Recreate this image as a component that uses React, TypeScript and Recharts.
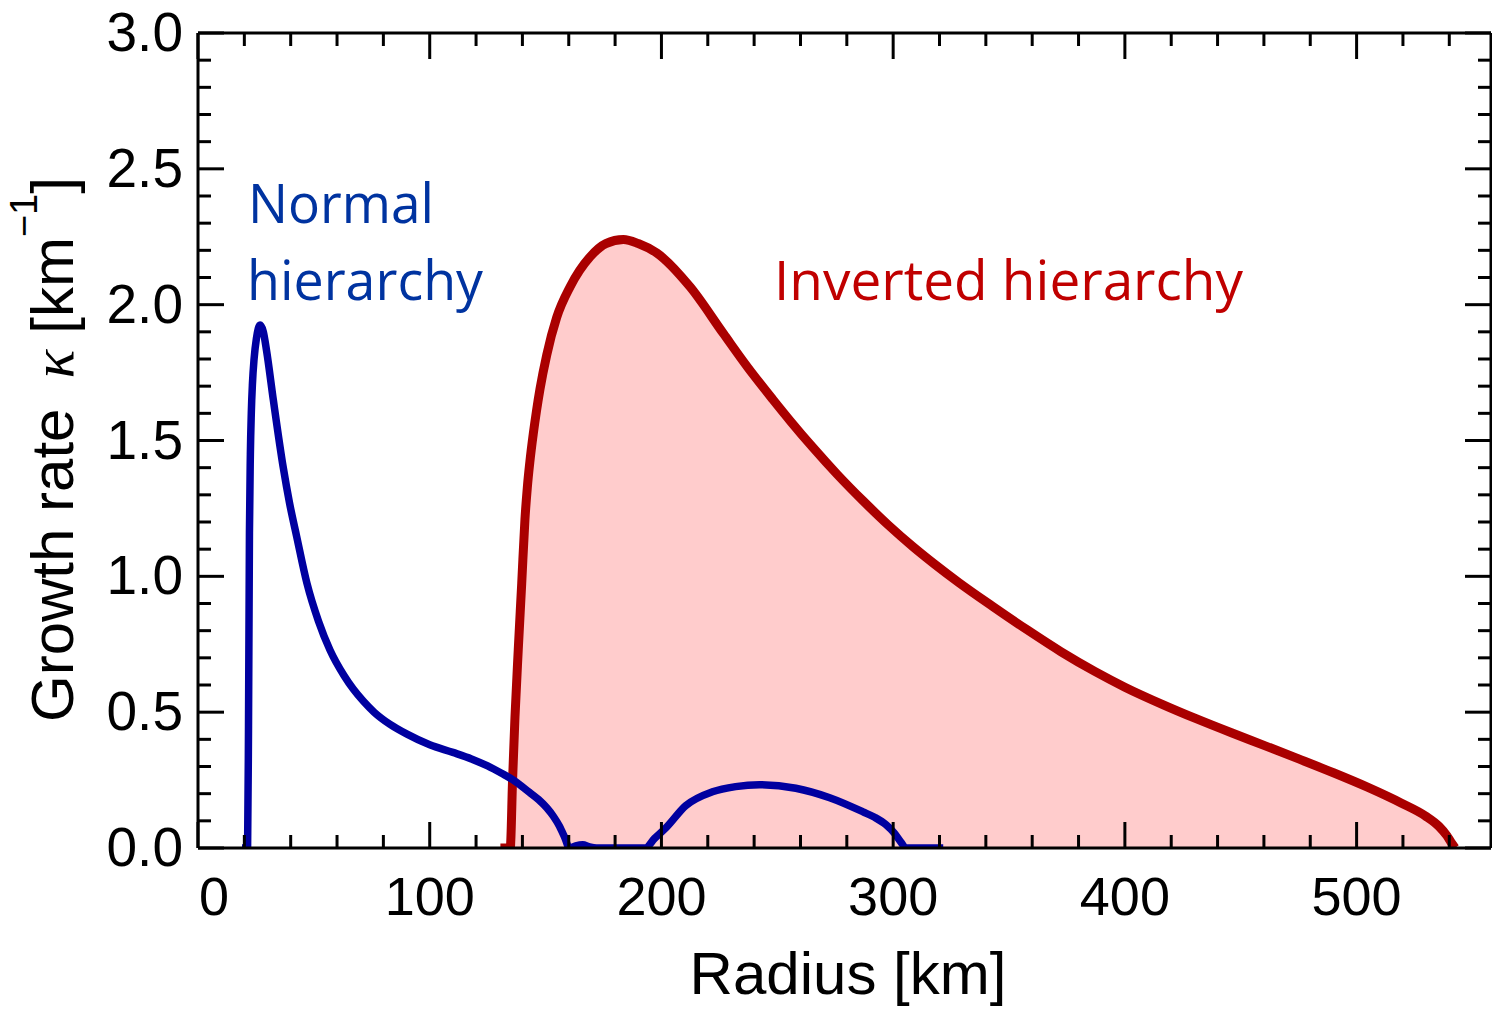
import { Area, ComposedChart, Customized, Line, XAxis, YAxis } from 'recharts'

// Normal hierarchy (blue curve): radius in km, growth rate in 1/km
const normalRadius = [
  19, 21.4, 21.8, 22.2, 22.6, 23, 23.5, 24.2, 25.2, 26.8, 28.2, 29.6, 32.5, 36.8, 39.5, 42.6, 47, 52,
  57, 63, 67, 71.4, 76, 82.9, 90, 100, 110, 118, 125, 131, 136.1, 143, 147, 150.5, 153.5, 156, 158.2, 160.3,
  163, 166, 169, 172,
  193, 197, 201.9, 210.5, 222, 232, 242.3, 258, 272.6, 287, 292, 297, 300.5, 303.5, 305.5, 321.6,
]
const normalRate = [
  0, 0, 0.45, 1.16, 1.45, 1.6, 1.71, 1.8, 1.875, 1.925, 1.9, 1.83, 1.65, 1.4, 1.27, 1.146, 0.975, 0.835,
  0.728, 0.635, 0.585, 0.54, 0.5, 0.455, 0.42, 0.38, 0.352, 0.328, 0.302, 0.275, 0.25, 0.205, 0.178, 0.148, 0.115, 0.08, 0.04, 0,
  0.008, 0.012, 0.004, 0,
  0, 0.035, 0.074, 0.156, 0.207, 0.226, 0.233, 0.22, 0.185, 0.133, 0.113, 0.085, 0.055, 0.02, 0, 0,
]

// Inverted hierarchy (red curve, filled)
const invertedRadius = [
  130.5, 134.8, 135, 135.7, 136.8, 138.2, 139.7, 141.1, 142.1, 143.2, 144.7, 146.1, 147.6, 150.5,
  154.8, 160.6, 169.2, 176, 183.6, 190, 198, 212.3, 226.7, 237, 248, 256, 265.4, 276, 287, 298,
  308.7, 318, 328.5, 343, 358, 372.5, 387, 400, 416.6, 431, 446, 460.6, 475, 490, 504.7, 519.4,
  529.7, 535.5, 539, 541, 542.5,
]
const invertedRate = [
  0, 0, 0.03, 0.238, 0.483, 0.729, 0.974, 1.21, 1.325, 1.42, 1.525, 1.61, 1.69, 1.815,
  1.953, 2.066, 2.176, 2.225, 2.24, 2.225, 2.19, 2.066, 1.894, 1.772, 1.652, 1.568, 1.474, 1.374, 1.278, 1.188,
  1.108, 1.044, 0.976, 0.889, 0.802, 0.722, 0.65, 0.592, 0.527, 0.475, 0.424, 0.376, 0.328, 0.277, 0.224, 0.165,
  0.118, 0.08, 0.045, 0.018, 0,
]

const xTicks = [0, 20, 40, 60, 80, 100, 120, 140, 160, 180, 200, 220, 240, 260, 280, 300, 320, 340, 360, 380, 400, 420, 440, 460, 480, 500, 520, 540]
const xLabelTicks = [0, 100, 200, 300, 400, 500]
const yTicks = [0, 0.1, 0.2, 0.3, 0.4, 0.5, 0.6, 0.7, 0.8, 0.9, 1, 1.1, 1.2, 1.3, 1.4, 1.5, 1.6, 1.7, 1.8, 1.9, 2, 2.1, 2.2, 2.3, 2.4, 2.5, 2.6, 2.7, 2.8, 2.9, 3]
const yLabelTicks = [0, 0.5, 1, 1.5, 2, 2.5, 3]

const rows = [
  ...normalRadius.map((radius, i) => ({ radius, normal: normalRate[i] as number | null, inverted: null as number | null })),
  ...invertedRadius.map((radius, i) => ({ radius, normal: null as number | null, inverted: invertedRate[i] as number | null })),
].sort((a, b) => a.radius - b.radius)

const AXIS_FONT = '"Liberation Sans", Arial, sans-serif'
const NOTE_FONT = '"Open Sans", "Noto Sans", sans-serif'
const MAJOR = 26
const MINOR = 13

const isLabelled = (v: number, list: number[]) => list.some((t) => Math.abs(t - v) < 1e-6)

function BottomTick({ x, y, payload }: any) {
  const major = isLabelled(payload.value, xLabelTicks)
  // the "0" label sits a little right of the frame corner, as in the original
  const shift = payload.value === 0 ? 16 : 0
  return (
    <g>
      <line x1={x} x2={x} y1={y} y2={y - (major ? MAJOR : MINOR)} stroke="#000" strokeWidth={3} />
      {major && (
        <text x={x + shift} y={y + 67} textAnchor="middle" fontFamily={AXIS_FONT} fontSize={54} fill="#000">
          {payload.value}
        </text>
      )}
    </g>
  )
}

function TopTick({ x, y, payload }: any) {
  const major = isLabelled(payload.value, xLabelTicks)
  return <line x1={x} x2={x} y1={y} y2={y + (major ? MAJOR : MINOR)} stroke="#000" strokeWidth={3} />
}

function LeftTick({ x, y, payload }: any) {
  const major = isLabelled(payload.value, yLabelTicks)
  return (
    <g>
      <line x1={x} x2={x + (major ? MAJOR : MINOR)} y1={y} y2={y} stroke="#000" strokeWidth={3} />
      {major && (
        <text x={x - 15} y={y + 18} textAnchor="end" fontFamily={AXIS_FONT} fontSize={55} fill="#000">
          {payload.value.toFixed(1)}
        </text>
      )}
    </g>
  )
}

function RightTick({ x, y, payload }: any) {
  const major = isLabelled(payload.value, yLabelTicks)
  return <line x1={x} x2={x - (major ? MAJOR : MINOR)} y1={y} y2={y} stroke="#000" strokeWidth={3} />
}

function Texts() {
  return (
    <g>
      <text x={848} y={994} textAnchor="middle" fontFamily={AXIS_FONT} fontSize={60} fill="#000">
        Radius [km]
      </text>
      <text transform="rotate(-90)" x={-722} y={73} fontFamily={AXIS_FONT} fontSize={60} fill="#000">
        Growth rate
        <tspan dx={30} fontFamily='"Liberation Serif", serif' fontStyle="italic">κ</tspan>
        <tspan dx={16}>[km</tspan>
        <tspan dy={-36} fontSize={38}>−1</tspan>
        <tspan dy={36}>]</tspan>
      </text>
      <text x={248} y={223} fontFamily={NOTE_FONT} fontSize={55} fill="#0033a0" textLength={186} lengthAdjust="spacingAndGlyphs">
        Normal
      </text>
      <text x={247} y={300} fontFamily={NOTE_FONT} fontSize={55} fill="#0033a0" textLength={236} lengthAdjust="spacingAndGlyphs">
        hierarchy
      </text>
      <text x={774} y={300} fontFamily={NOTE_FONT} fontSize={55} fill="#c00000" textLength={469} lengthAdjust="spacingAndGlyphs">
        Inverted hierarchy
      </text>
    </g>
  )
}

export default function App() {
  return (
    <div style={{ width: 1492, height: 1009, background: '#fff', overflow: 'hidden' }}>
      <style>{'body{margin:0;overflow:hidden}'}</style>
      <ComposedChart width={1492} height={1009} data={rows} margin={{ top: 0, right: 0, bottom: 0, left: 0 }}>
        <XAxis
          xAxisId="bottom"
          dataKey="radius"
          type="number"
          domain={[0, 558]}
          ticks={xTicks}
          interval={0}
          height={161}
          tickSize={0}
          tickMargin={0}
          tickLine={false}
          axisLine={{ stroke: '#000', strokeWidth: 3 }}
          tick={<BottomTick />}
          allowDataOverflow
        />
        <XAxis
          xAxisId="top"
          orientation="top"
          dataKey="radius"
          type="number"
          domain={[0, 558]}
          ticks={xTicks}
          interval={0}
          height={33}
          tickSize={0}
          tickMargin={0}
          tickLine={false}
          axisLine={{ stroke: '#000', strokeWidth: 3 }}
          tick={<TopTick />}
          allowDataOverflow
        />
        <YAxis
          yAxisId="left"
          type="number"
          domain={[0, 3]}
          ticks={yTicks}
          interval={0}
          width={198}
          tickSize={0}
          tickMargin={0}
          tickLine={false}
          axisLine={{ stroke: '#000', strokeWidth: 3 }}
          tick={<LeftTick />}
          allowDataOverflow
        />
        <YAxis
          yAxisId="right"
          orientation="right"
          type="number"
          domain={[0, 3]}
          ticks={yTicks}
          interval={0}
          width={1}
          tickSize={0}
          tickMargin={0}
          tickLine={false}
          axisLine={{ stroke: '#000', strokeWidth: 3 }}
          tick={<RightTick />}
          allowDataOverflow
        />
        <Area
          xAxisId="bottom"
          yAxisId="left"
          dataKey="inverted"
          type="monotone"
          connectNulls
          fill="#ffcccc"
          fillOpacity={1}
          stroke="#aa0000"
          strokeWidth={9}
          isAnimationActive={false}
          dot={false}
          activeDot={false}
        />
        <Line
          xAxisId="bottom"
          yAxisId="left"
          dataKey="normal"
          type="monotone"
          connectNulls
          stroke="#0000a0"
          strokeWidth={7.5}
          isAnimationActive={false}
          dot={false}
          activeDot={false}
        />
        <Customized component={<Texts />} />
      </ComposedChart>
    </div>
  )
}
